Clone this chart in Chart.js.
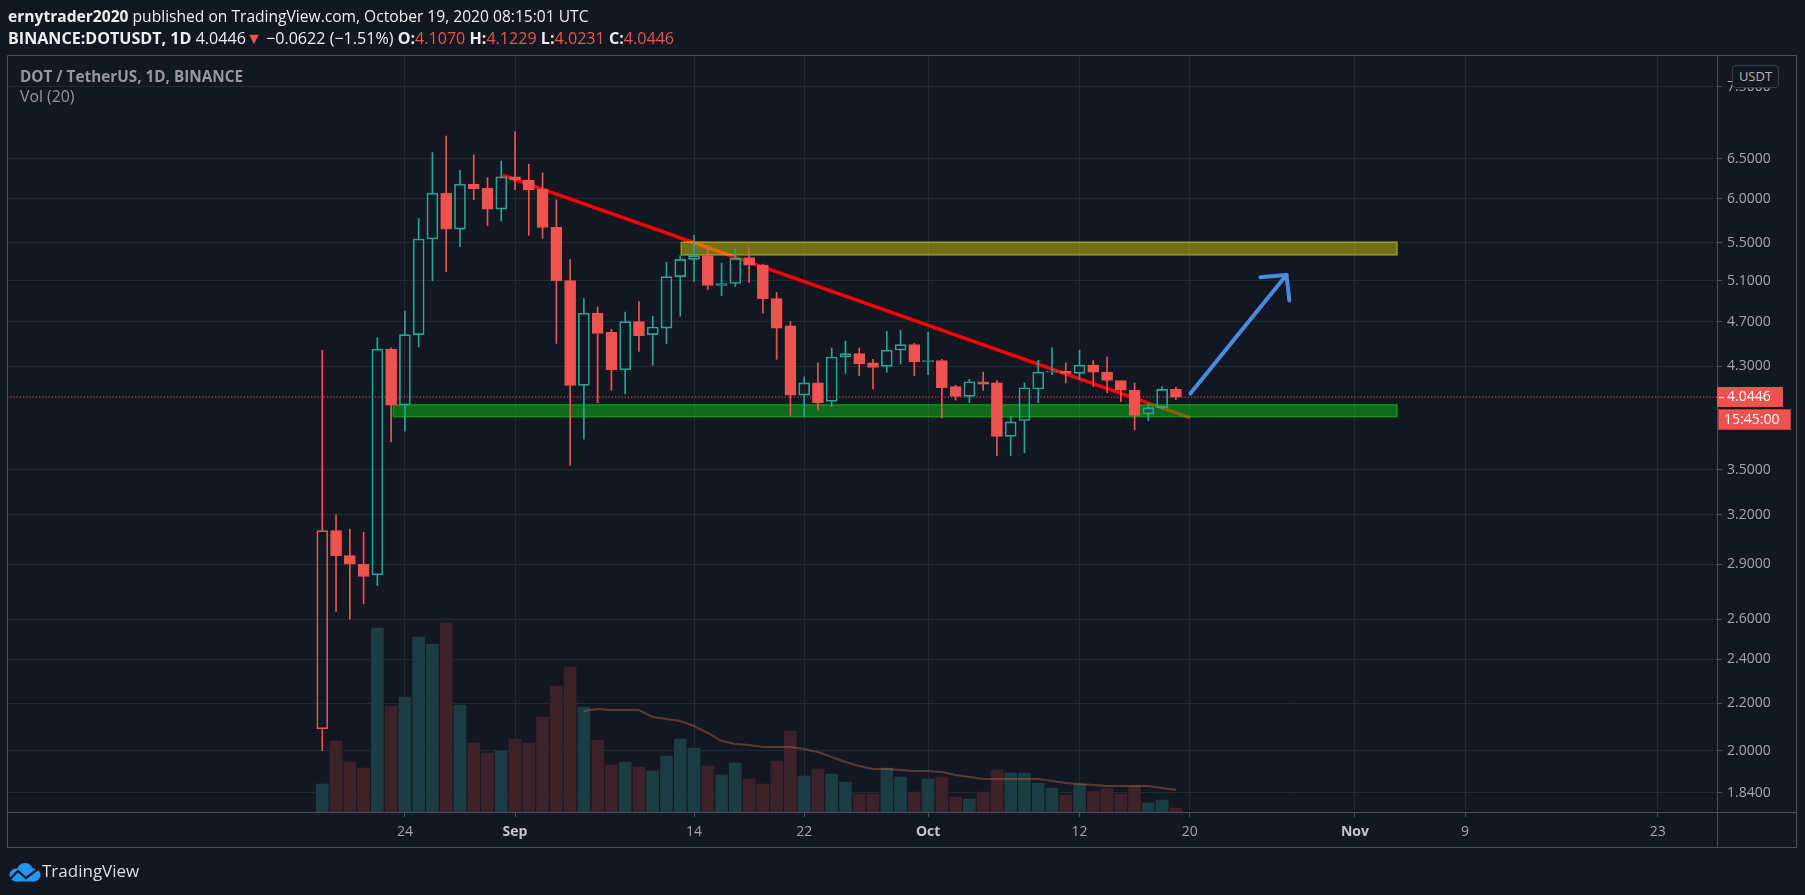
<!DOCTYPE html>
<html lang="en">
<head>
<meta charset="UTF-8">
<title>DOT / TetherUS, 1D, BINANCE</title>
<script src="https://cdn.jsdelivr.net/npm/chart.js"></script>
<style>
  html, body { margin: 0; padding: 0; background: #131722; }
  body { width: 1805px; height: 895px; position: relative; overflow: hidden; font-family: 'Open Sans', sans-serif; }
  #wrap { position: absolute; left: 0; top: 0; width: 1805px; height: 895px; }
  .txt { position: absolute; white-space: nowrap; line-height: 20px; }
  #hdr1 { left: 8px; top: 6px; font-size: 15.6px; color: #eceef2; }
  #hdr2 { left: 8px; top: 28px; font-size: 16.1px; color: #eceef2; }
  .dn { color: #ef5350; }
  #legend1 { left: 20px; top: 66px; font-size: 15.3px; font-weight: bold; color: #9598a1; }
  #legend2 { left: 20px; top: 86px; font-size: 15.8px; color: #9598a1; }
  #unit { position: absolute; left: 1732px; top: 65px; width: 45px; height: 21px; border: 1px solid #3a3e4a;
          border-radius: 4px; background: #131722; color: #b2b5be; font-size: 13px; line-height: 21px; text-align: center; }
  #footer { position: absolute; left: 8px; top: 861px; height: 22px; }
  #footer svg { position: absolute; left: 0; top: 2px; }
  #footer span { position: absolute; left: 34px; top: 0; font-size: 17px; line-height: 20px; color: #dcdee4; }
</style>
</head>
<body>
<div id="wrap"><canvas id="chart"></canvas></div>
<div id="hdr1" class="txt"><b>ernytrader2020</b> published on TradingView.com, October 19, 2020 08:15:01 UTC</div>
<div id="hdr2" class="txt"></div>
<div id="legend1" class="txt">DOT / TetherUS, 1D, BINANCE</div>
<div id="legend2" class="txt">Vol (20)</div>
<div id="unit">USDT</div>
<div id="footer">
  <svg width="33" height="19" viewBox="0 0 33 19">
    <circle cx="8" cy="12" r="6.5" fill="#2196f3"/>
    <circle cx="17" cy="8" r="8" fill="#2196f3"/>
    <circle cx="26" cy="12" r="6.5" fill="#2196f3"/>
    <rect x="8" y="10" width="18" height="8.5" fill="#2196f3"/>
    <polyline points="2,16 10,8 18,15 30,6" fill="none" stroke="#131722" stroke-width="2.2"/>
  </svg>
  <span>TradingView</span>
</div>

<script>
// daily candles, BINANCE:DOTUSDT
const dates = [
  '2020-08-18','2020-08-19','2020-08-20','2020-08-21','2020-08-22','2020-08-23','2020-08-24','2020-08-25',
  '2020-08-26','2020-08-27','2020-08-28','2020-08-29','2020-08-30','2020-08-31','2020-09-01','2020-09-02',
  '2020-09-03','2020-09-04','2020-09-05','2020-09-06','2020-09-07','2020-09-08','2020-09-09','2020-09-10',
  '2020-09-11','2020-09-12','2020-09-13','2020-09-14','2020-09-15','2020-09-16','2020-09-17','2020-09-18',
  '2020-09-19','2020-09-20','2020-09-21','2020-09-22','2020-09-23','2020-09-24','2020-09-25','2020-09-26',
  '2020-09-27','2020-09-28','2020-09-29','2020-09-30','2020-10-01','2020-10-02','2020-10-03','2020-10-04',
  '2020-10-05','2020-10-06','2020-10-07','2020-10-08','2020-10-09','2020-10-10','2020-10-11','2020-10-12',
  '2020-10-13','2020-10-14','2020-10-15','2020-10-16','2020-10-17','2020-10-18','2020-10-19'
];
const opens = [
  2.09, 3.10, 2.95, 2.90, 2.84, 4.45, 3.98, 4.58, 5.54, 6.07, 5.65, 6.18, 6.13, 5.88, 6.27, 6.23,
  6.12, 5.67, 5.10, 4.14, 4.78, 4.60, 4.27, 4.70, 4.58, 4.64, 5.14, 5.32, 5.36, 5.05, 5.07, 5.34,
  5.26, 4.92, 4.66, 4.06, 4.16, 4.01, 4.38, 4.41, 4.33, 4.30, 4.44, 4.49, 4.34, 4.35, 4.13, 4.05,
  4.17, 4.16, 3.74, 3.86, 4.11, 4.25, 4.26, 4.24, 4.31, 4.25, 4.18, 4.10, 3.91, 3.96, 4.1070
];
const highs = [
  4.44, 3.20, 3.11, 3.09, 4.55, 4.46, 4.80, 5.77, 6.58, 6.80, 6.35, 6.55, 6.26, 6.47, 6.86, 6.43,
  6.32, 5.99, 5.32, 4.92, 4.84, 4.63, 4.79, 4.89, 4.75, 5.29, 5.36, 5.58, 5.45, 5.28, 5.43, 5.45,
  5.27, 4.98, 4.70, 4.21, 4.33, 4.46, 4.52, 4.46, 4.36, 4.61, 4.62, 4.50, 4.60, 4.36, 4.14, 4.19,
  4.25, 4.18, 3.89, 4.16, 4.35, 4.46, 4.33, 4.44, 4.35, 4.38, 4.18, 4.16, 3.99, 4.13, 4.1229
];
const lows = [
  2.00, 2.64, 2.60, 2.68, 2.78, 3.70, 3.78, 4.47, 5.10, 5.19, 5.46, 5.99, 5.69, 5.74, 6.11, 5.58,
  5.55, 4.50, 3.53, 3.72, 4.00, 4.10, 4.07, 4.43, 4.31, 4.50, 4.75, 5.09, 5.01, 4.95, 5.04, 5.08,
  4.78, 4.36, 3.90, 3.89, 3.94, 3.97, 4.24, 4.22, 4.11, 4.25, 4.32, 4.22, 4.23, 3.88, 4.02, 4.00,
  4.10, 3.60, 3.60, 3.62, 4.00, 4.23, 4.16, 4.19, 4.13, 4.08, 4.01, 3.79, 3.86, 3.95, 4.0231
];
const closes = [
  3.10, 2.95, 2.90, 2.83, 4.45, 3.98, 4.58, 5.54, 6.07, 5.65, 6.18, 6.12, 5.88, 6.27, 6.23, 6.11,
  5.67, 5.10, 4.14, 4.78, 4.59, 4.27, 4.70, 4.57, 4.65, 5.14, 5.32, 5.36, 5.05, 5.07, 5.33, 5.26,
  4.92, 4.64, 4.06, 4.16, 4.00, 4.38, 4.41, 4.32, 4.29, 4.44, 4.49, 4.34, 4.35, 4.12, 4.05, 4.17,
  4.15, 3.74, 3.85, 4.12, 4.25, 4.26, 4.24, 4.31, 4.25, 4.18, 4.10, 3.90, 3.96, 4.1068, 4.0446
];
// volume, millions of DOT
const volumes = [
  2.8, 7.1, 5.0, 4.4, 18.4, 10.6, 11.5, 17.5, 16.8, 18.9, 10.7, 6.9, 5.9, 6.1, 7.3, 6.9,
  9.5, 12.6, 14.5, 10.5, 7.2, 4.7, 5.0, 4.5, 4.1, 5.6, 7.3, 6.4, 4.6, 3.7, 4.9, 3.3,
  2.8, 5.1, 8.1, 3.6, 4.3, 3.8, 3.0, 1.8, 1.8, 4.4, 3.5, 2.0, 3.3, 3.5, 1.5, 1.3,
  2.0, 4.2, 3.9, 3.9, 2.9, 2.4, 1.7, 2.8, 2.1, 2.4, 1.8, 2.6, 0.9, 1.2, 0.4
];
// Vol (20) moving average, from 2020-09-06 on
const volMaStart = '2020-09-06';
const volMa = [
  10.1, 10.3, 10.2, 10.2, 10.2, 9.5, 9.3, 9.1, 8.6, 7.9, 7.1, 6.8, 6.7, 6.5, 6.5, 6.5, 6.3, 6.0,
  5.5, 5.0, 4.6, 4.3, 4.3, 4.2, 4.1, 4.1, 4.0, 3.7, 3.5, 3.3, 3.3, 3.3, 3.3, 3.3, 3.1, 2.9,
  2.8, 2.7, 2.6, 2.6, 2.6, 2.6, 2.4, 2.2
];

const priceTicks = [1.84, 2.0, 2.2, 2.4, 2.6, 2.9, 3.2, 3.5, 4.3, 4.7, 5.1, 5.5, 6.0, 6.5, 7.5];
const dateTicks = ['2020-08-24','2020-09-01','2020-09-14','2020-09-22','2020-10-01','2020-10-12','2020-10-20','2020-11-01','2020-11-09','2020-11-23'];
const dateTickLabels = ['24', 'Sep', '14', '22', 'Oct', '12', '20', 'Nov', '9', '23'];
const monthLabels = ['Sep', 'Oct', 'Nov'];

// drawings: x = days after 2020-08-24, y = price
const trendLine = [{x: 7.1, y: 6.29}, {x: 57.05, y: 3.88}];
const resistanceZone = {from: 20.07, to: 72.06, low: 5.365, high: 5.506};
const supportZone = {from: -0.85, to: 72.06, low: 3.889, high: 3.983};
const arrowShaft = [{x: 57.05, y: 4.073}, {x: 64.03, y: 5.158}];
const arrowHead = [{x: 62.14, y: 5.135}, {x: 64.03, y: 5.158}, {x: 64.24, y: 4.901}];

const UP = '#26a69a', DOWN = '#ef5350';
const X_MIN = -28.9, X_MAX = 95.3;

function dayIndex(s) {
  const t = Date.UTC(+s.slice(0, 4), +s.slice(5, 7) - 1, +s.slice(8, 10));
  return (t - Date.UTC(2020, 7, 24)) / 864e5;
}

const xs = dates.map(dayIndex);
const n = closes.length;
const candleColor = closes.map((c, i) => (i > 0 && c >= closes[i - 1]) ? UP : DOWN);
const hollow = closes.map((c, i) => c > opens[i]);

const bodies = xs.map((x, i) => ({x, y: [Math.min(opens[i], closes[i]), Math.max(opens[i], closes[i])]}));
const upperWicks = xs.map((x, i) => ({x, y: [Math.max(opens[i], closes[i]), highs[i]]}));
const lowerWicks = xs.map((x, i) => ({x, y: [lows[i], Math.min(opens[i], closes[i])]}));
const volBars = xs.map((x, i) => ({x, y: volumes[i]}));
const volMa0 = dayIndex(volMaStart);
const volMaLine = volMa.map((v, i) => ({x: volMa0 + i, y: v}));

function zoneShape(z) {
  return [
    {x: z.from, y: z.high}, {x: z.to, y: z.high}, {x: z.to, y: z.low},
    {x: z.from, y: z.low}, {x: z.from, y: z.high}
  ];
}

// header line 2 built from the last candle
const last = n - 1;
const chg = closes[last] - closes[last - 1];
const pct = chg / closes[last - 1] * 100;
const fmt = v => (v < 0 ? '\u2212' : '') + Math.abs(v).toFixed(4);
document.getElementById('hdr2').innerHTML =
  '<b>BINANCE:DOTUSDT, 1D</b> ' + closes[last].toFixed(4) + '<span class="dn">\u25BC</span> ' +
  fmt(chg) + ' (' + (pct < 0 ? '\u2212' : '') + Math.abs(pct).toFixed(2) + '%) ' +
  '<b>O:</b><span class="dn">' + opens[last].toFixed(4) + '</span> ' +
  '<b>H:</b><span class="dn">' + highs[last].toFixed(4) + '</span> ' +
  '<b>L:</b><span class="dn">' + lows[last].toFixed(4) + '</span> ' +
  '<b>C:</b><span class="dn">' + closes[last].toFixed(4) + '</span>';

// frame, last price label and countdown
const tvOverlay = {
  id: 'tvOverlay',
  afterDraw(chart) {
    const {ctx, chartArea: a} = chart;
    const R = chart.scales.y.right, B = chart.scales.x.bottom;
    ctx.save();
    ctx.strokeStyle = '#4c505b';
    ctx.lineWidth = 1;
    ctx.beginPath();
    ctx.rect(a.left + 0.5, a.top + 0.5, R - a.left - 1, B - a.top - 1);
    ctx.moveTo(a.right + 0.5, a.top); ctx.lineTo(a.right + 0.5, B);
    ctx.moveTo(a.left, a.bottom + 0.5); ctx.lineTo(R, a.bottom + 0.5);
    ctx.stroke();

    const price = closes[last];
    const py = Math.round(chart.scales.y.getPixelForValue(price));
    ctx.fillStyle = DOWN;
    ctx.fillRect(a.right, py - 10, 66, 20);
    ctx.fillStyle = '#ffffff';
    ctx.fillRect(a.right + 2, py, 5, 1);
    ctx.font = '14px "Open Sans"';
    ctx.textBaseline = 'middle';
    ctx.fillText(price.toFixed(4), a.right + 10, py + 0.5);

    ctx.fillStyle = DOWN;
    ctx.fillRect(a.right + 1, py + 12, 73, 21);
    ctx.strokeStyle = '#b23e3b';
    ctx.strokeRect(a.right + 1.5, py + 12.5, 72, 20);
    ctx.fillStyle = '#ffffff';
    ctx.fillText('15:45:00', a.right + 7, py + 23);
    ctx.restore();
  }
};

const lineBase = {type: 'line', pointRadius: 0, pointHoverRadius: 0, tension: 0, yAxisID: 'y'};

const ctx = document.getElementById('chart').getContext('2d');
new Chart(ctx, {
  type: 'bar',
  data: {
    datasets: [
      Object.assign({}, lineBase, {
        label: 'Arrow', data: arrowShaft, borderColor: '#4a89e0', borderWidth: 4,
        borderCapStyle: 'round', order: 1
      }),
      Object.assign({}, lineBase, {
        label: 'Arrow head', data: arrowHead, borderColor: '#4a89e0', borderWidth: 4,
        borderCapStyle: 'round', borderJoinStyle: 'round', order: 1
      }),
      {
        label: 'Body', data: bodies, yAxisID: 'y', grouped: false, barThickness: 11,
        backgroundColor: bodies.map((b, i) => hollow[i] ? 'rgba(0,0,0,0)' : candleColor[i]),
        borderColor: candleColor, borderWidth: 1, borderSkipped: false, minBarLength: 1, order: 2
      },
      {
        label: 'Upper wick', data: upperWicks, yAxisID: 'y', grouped: false, barThickness: 1,
        backgroundColor: candleColor, order: 3
      },
      {
        label: 'Lower wick', data: lowerWicks, yAxisID: 'y', grouped: false, barThickness: 1,
        backgroundColor: candleColor, order: 3
      },
      Object.assign({}, lineBase, {
        label: 'Resistance', data: zoneShape(resistanceZone), fill: 'shape',
        backgroundColor: 'rgba(223,221,14,0.45)', borderColor: 'rgba(215,212,20,0.55)', borderWidth: 1.5, order: 4
      }),
      Object.assign({}, lineBase, {
        label: 'Support', data: zoneShape(supportZone), fill: 'shape',
        backgroundColor: 'rgba(14,190,20,0.5)', borderColor: 'rgba(20,200,30,0.55)', borderWidth: 1.5, order: 4
      }),
      Object.assign({}, lineBase, {
        label: 'Trend', data: trendLine, borderColor: '#ff0000', borderWidth: 3.5, order: 5
      }),
      Object.assign({}, lineBase, {
        label: 'Last price', data: [{x: X_MIN, y: closes[last]}, {x: X_MAX, y: closes[last]}],
        borderColor: DOWN, borderWidth: 1, borderDash: [1.2, 2], order: 6
      }),
      Object.assign({}, lineBase, {
        label: 'Vol MA', data: volMaLine, yAxisID: 'vol', borderColor: 'rgba(209,110,60,0.4)', borderWidth: 2, order: 7
      }),
      {
        label: 'Volume', data: volBars, yAxisID: 'vol', grouped: false, barThickness: 12,
        backgroundColor: xs.map((x, i) => closes[i] > opens[i] ? '#1b3c42' : '#3c2129'), order: 8
      }
    ]
  },
  options: {
    responsive: true,
    maintainAspectRatio: false,
    animation: false,
    devicePixelRatio: 1,
    layout: {padding: {left: 7, top: 55, right: 8, bottom: 47}},
    plugins: {legend: {display: false}, tooltip: {enabled: false}},
    scales: {
      x: {
        type: 'linear', min: X_MIN, max: X_MAX, offset: false, bounds: 'data',
        afterBuildTicks: s => { s.ticks = dateTicks.map(d => ({value: dayIndex(d)})); },
        afterFit: s => { s.height = 36; },
        ticks: {
          autoSkip: false, maxRotation: 0, padding: 7,
          callback: v => dateTickLabels[dateTicks.map(dayIndex).indexOf(v)],
          color: c => monthLabels.includes(dateTickLabels[c.index]) ? '#c3c6ce' : '#a3a6af',
          font: c => ({family: 'Open Sans', size: 14, weight: monthLabels.includes(dateTickLabels[c.index]) ? 'bold' : 'normal'})
        },
        grid: {color: '#242833', tickColor: '#4c505b', tickLength: 5, offset: false},
        border: {display: false}
      },
      y: {
        type: 'logarithmic', position: 'right', min: 1.771, max: 7.99, bounds: 'data',
        afterBuildTicks: s => { s.ticks = priceTicks.map(v => ({value: v})); },
        afterFit: s => { s.width = 80; },
        ticks: {
          autoSkip: false, padding: 5, color: '#a3a6af',
          font: {family: 'Open Sans', size: 14},
          callback: v => Number(v).toFixed(4)
        },
        grid: {color: '#242833', tickColor: '#4c505b', tickLength: 5},
        border: {display: false}
      },
      vol: {type: 'linear', display: false, min: 0, max: 75.7}
    }
  },
  plugins: [tvOverlay]
});
</script>
</body>
</html>
